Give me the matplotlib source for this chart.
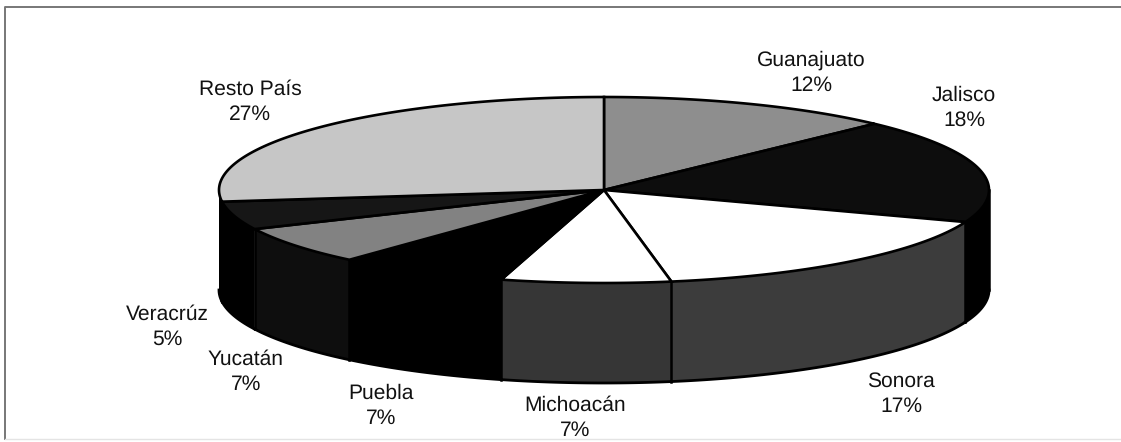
import numpy as np
import matplotlib
matplotlib.use("Agg")
import matplotlib.pyplot as plt

plt.rcParams["font.family"] = ["Liberation Sans", "DejaVu Sans"]
plt.rcParams["text.hinting"] = "none"

names = ["Guanajuato", "Jalisco", "Sonora", "Michoacán", "Puebla", "Yucatán", "Veracrúz", "Resto País"]
values = [12.4, 18.2, 16.6, 7.1, 7.2, 6.6, 4.9, 27.0]

top_colors = ["#8e8e8e", "#0d0d0d", "#ffffff", "#ffffff", "#000000", "#828282", "#161616", "#c6c6c6"]
side_colors = ["#000000", "#000000", "#3c3c3c", "#363636", "#000000", "#0e0e0e", "#000000", "#000000"]
label_pos = [(811, 73), (964, 108), (901, 394), (575, 418), (381, 406), (246, 372), (167, 327), (250, 102)]

CX, CY = 604, 190
RX, RY = 385, 93
DEPTH = 100


def ellipse(t):
    return CX + RX * np.sin(t), CY - RY * np.cos(t)


fig = plt.figure(figsize=(11.21, 4.42), dpi=100)
ax = fig.add_axes([0, 0, 1, 1])
ax.set_xlim(0, 1121)
ax.set_ylim(442, 0)
ax.axis("off")

# frame
ax.plot([5, 5, 1121], [439, 7, 7], color="#777777", lw=1.4)
ax.plot([5, 1121], [439, 439], color="#e4e4e4", lw=1)

edges = np.cumsum([0] + values) / sum(values) * 2 * np.pi

# sides first, only the front half shows
for i in range(len(values)):
    a = max(edges[i], np.pi / 2)
    b = min(edges[i + 1], 3 * np.pi / 2)
    if a >= b:
        continue
    t = np.linspace(a, b, 60)
    x, y = ellipse(t)
    ax.fill(np.r_[x, x[::-1]], np.r_[y, y[::-1] + DEPTH], color=side_colors[i], lw=0, zorder=2)
    ax.plot(np.r_[x[0], x[0]], [y[0], y[0] + DEPTH], color="black", lw=1.8, zorder=3)
    ax.plot(x, y + DEPTH, color="black", lw=2, zorder=3)

# top of the pie
for i in range(len(values)):
    t = np.linspace(edges[i], edges[i + 1], 120)
    x, y = ellipse(t)
    ax.fill(np.r_[CX, x], np.r_[CY, y], facecolor=top_colors[i], edgecolor="black", lw=1.9, zorder=4)

for name, v, (lx, ly) in zip(names, values, label_pos):
    ax.text(lx, ly, f"{name}\n{v:.0f}%", ha="center", va="center", fontsize=15.1, color="#111111", linespacing=1.37)

fig.savefig("out.png", dpi=100)
